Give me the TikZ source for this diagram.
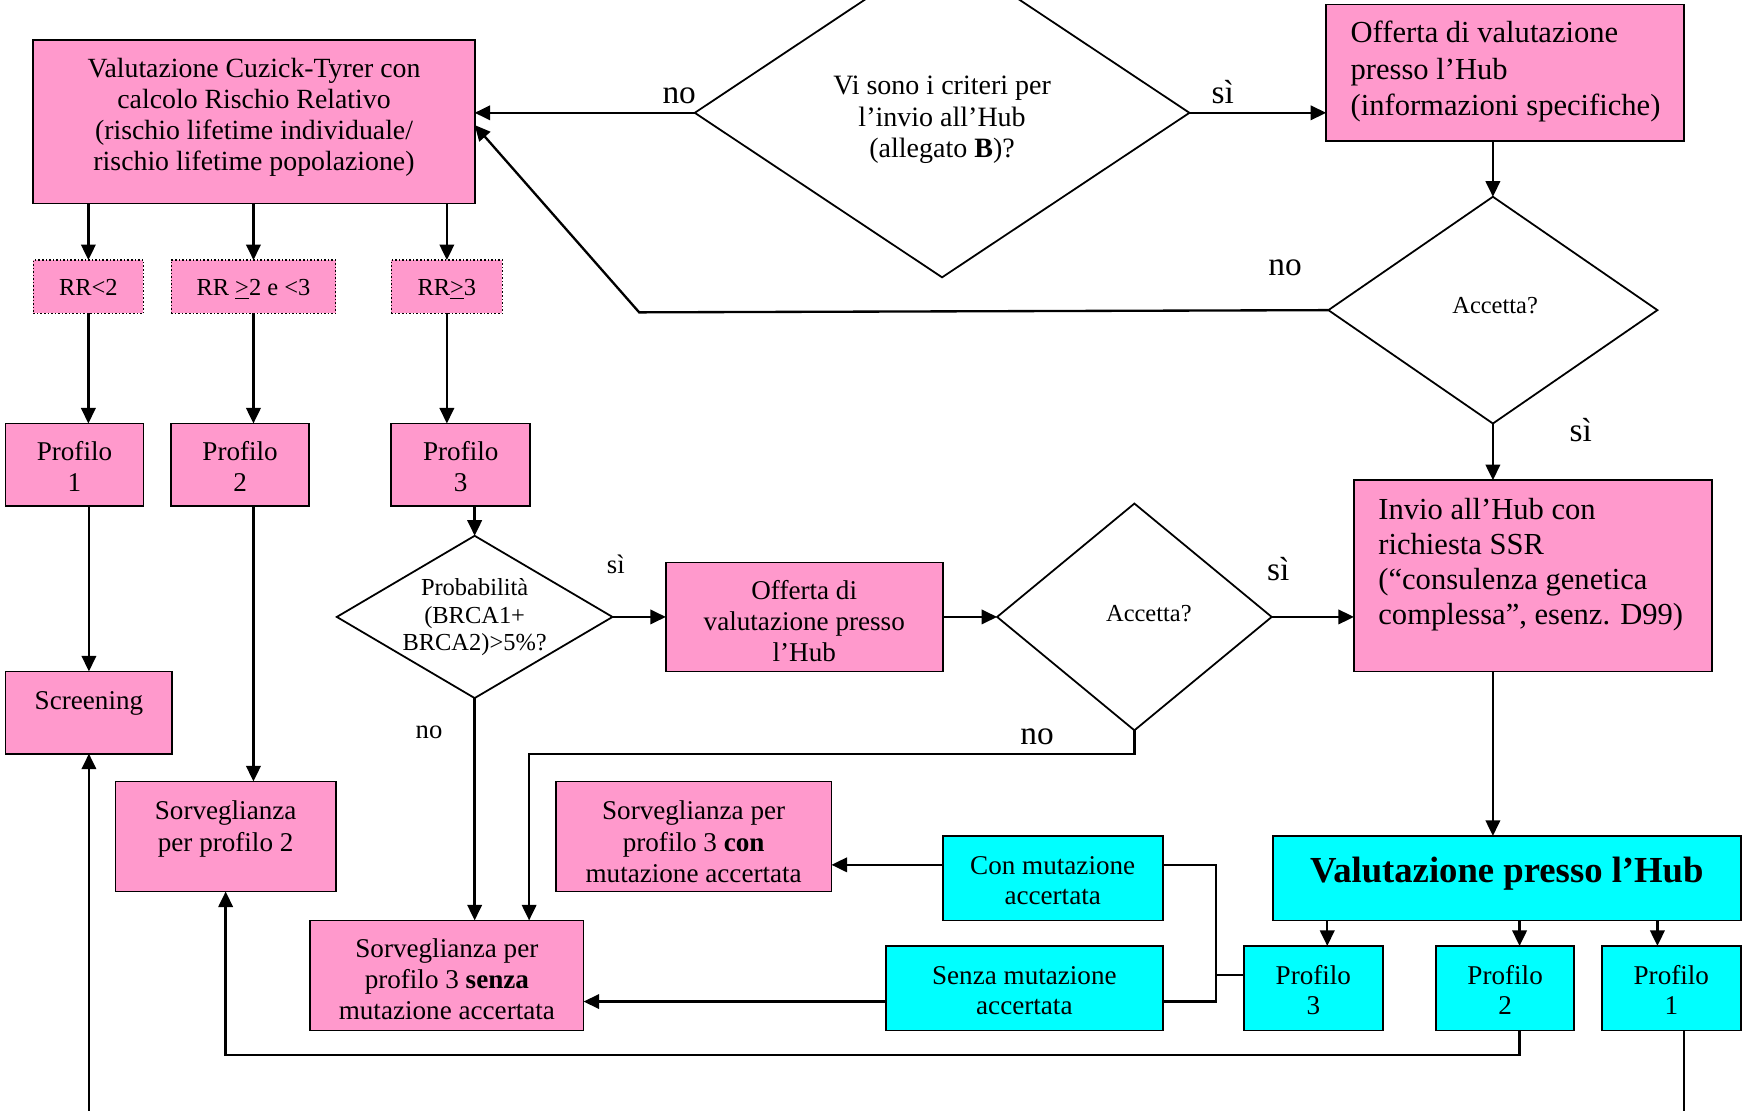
\documentclass[tikz,border=0pt]{standalone}
\usepackage{fontspec}
\setmainfont{Liberation Serif}
\usetikzlibrary{arrows.meta,shapes.geometric,calc}
\definecolor{pinkc}{RGB}{255,153,204}
\definecolor{cyanc}{RGB}{0,255,255}
\newcommand{\tblk}[4][c]{\makebox[#2][#1]{\smash{\raisebox{\dimexpr #3-0.25em-1.25pt\relax}{\begin{tabular}{@{}#1@{}}#4\end{tabular}}}}}
\newcommand{\setfs}[2]{\fontsize{#1}{#2}\selectfont}
\begin{document}
\begin{tikzpicture}[x=0.5pt,y=-0.5pt,
  bx/.style={draw, line width=0.8pt, inner sep=0pt, outer sep=0pt},
  pk/.style={bx, fill=pinkc},
  cy/.style={bx, fill=cyanc},
  rr/.style={pk, line width=0.6pt, dash pattern=on 0.7pt off 0.9pt},
  dia/.style={diamond, draw, line width=0.8pt, fill=white, inner sep=0pt, outer sep=0pt},
  ln/.style={line width=1.05pt},
  arr/.style={ln, -{Triangle[length=7pt,width=6.5pt]}},
  lbl/.style={inner sep=0pt, outer sep=0pt}]
\useasboundingbox (0,0) rectangle (1568,999);

% ---- boxes ----
\node[pk, minimum width=198.5pt, minimum height=73.5pt, font=\setfs{12.5}{14}] (A) at (228.5,109.5)
  {\tblk{0pt}{3.25pt}{Valutazione Cuzick-Tyrer con\\calcolo Rischio Relativo\\(rischio lifetime individuale/\\rischio lifetime popolazione)}};
\node[dia, minimum width=222.5pt, minimum height=148pt, font=\setfs{12.6}{14}] (D1) at (847.5,101.5)
  {\tblk{0pt}{-1.75pt}{Vi sono i criteri per\\l’invio all’Hub\\(allegato \textbf{B})?}};
\node[pk, minimum width=161pt, minimum height=61.5pt, font=\setfs{13.75}{16.25}] (B) at (1354,65.5)
  {\tblk[l]{139pt}{1.5pt}{Offerta di valutazione\\presso l’Hub\\(informazioni specifiche)}};
\node[dia, minimum width=148pt, minimum height=102pt, font=\setfs{11}{13}] (D2) at (1343,279)
  {\tblk{0pt}{2.5pt}{\hspace*{2pt}Accetta?}};
\node[pk, minimum width=161pt, minimum height=86pt, font=\setfs{13.75}{15.7}] (C) at (1379,518)
  {\tblk[l]{139pt}{6pt}{Invio all’Hub con\\richiesta SSR\\(“consulenza genetica\\complessa”, esenz. D99)}};

\node[rr, minimum width=49.5pt, minimum height=24pt, font=\setfs{11}{13}] (R1) at (79.5,258) {\tblk{0pt}{0pt}{RR<2}};
\node[rr, minimum width=74pt, minimum height=24pt, font=\setfs{11}{13}] (R2) at (228,258) {\tblk{0pt}{0pt}{RR \underline{>}2 e <3}};
\node[rr, minimum width=50pt, minimum height=24pt, font=\setfs{11}{13}] (R3) at (402,258) {\tblk{0pt}{0pt}{RR\underline{>}3}};

\node[pk, minimum width=62pt, minimum height=37pt, font=\setfs{12.2}{14}] (P1) at (67,418) {\tblk{0pt}{-1pt}{Profilo\\1}};
\node[pk, minimum width=62pt, minimum height=37pt, font=\setfs{12.2}{14}] (P2) at (216,418) {\tblk{0pt}{-1pt}{Profilo\\2}};
\node[pk, minimum width=62.5pt, minimum height=37pt, font=\setfs{12.2}{14}] (P3) at (414.5,418) {\tblk{0pt}{-1pt}{Profilo\\3}};

\node[dia, minimum width=124pt, minimum height=73pt, font=\setfs{11}{12.5}] (D3) at (427,555)
  {\tblk{0pt}{1pt}{Probabilità\\(BRCA1+\\BRCA2)>5\%?}};
\node[pk, minimum width=124.5pt, minimum height=49pt, font=\setfs{12.2}{14}] (E) at (723.5,555)
  {\tblk{0pt}{-2pt}{Offerta di\\valutazione presso\\l’Hub}};
\node[dia, minimum width=123.5pt, minimum height=102pt, font=\setfs{11}{13}] (D4) at (1020.5,555)
  {\tblk{0pt}{2pt}{\hspace*{13pt}Accetta?}};

\node[pk, minimum width=75pt, minimum height=37pt, font=\setfs{12.2}{14}] (Scr) at (80,641) {\tblk{0pt}{5.5pt}{Screening}};
\node[pk, minimum width=99pt, minimum height=49.5pt, font=\setfs{12.2}{14.5}] (SP2) at (203,752.5)
  {\tblk{0pt}{4.5pt}{Sorveglianza\\per profilo 2}};
\node[pk, minimum width=124pt, minimum height=49.5pt, font=\setfs{12.2}{14.25}] (SP3c) at (624,752.5)
  {\tblk{0pt}{-2.5pt}{Sorveglianza per\\profilo 3 \textbf{con}\\mutazione accertata}};
\node[pk, minimum width=123pt, minimum height=49.5pt, font=\setfs{12.2}{14}] (SP3s) at (402,877.5)
  {\tblk{0pt}{-1.75pt}{Sorveglianza per\\profilo 3 \textbf{senza}\\mutazione accertata}};

\node[cy, minimum width=99pt, minimum height=38pt, font=\setfs{12.2}{13.5}] (Con) at (947,790)
  {\tblk{0pt}{-1.25pt}{Con mutazione\\accertata}};
\node[cy, minimum width=124.5pt, minimum height=38pt, font=\setfs{12.2}{13.5}] (Senza) at (921.5,889)
  {\tblk{0pt}{-1.25pt}{Senza mutazione\\accertata}};
\node[cy, minimum width=210.5pt, minimum height=38pt, font=\setfs{16.5}{19}\bfseries] (Hub) at (1355.5,790)
  {\tblk{0pt}{3pt}{Valutazione presso l’Hub}};
\node[cy, minimum width=62.5pt, minimum height=38pt, font=\setfs{12.2}{13.5}] (HP3) at (1181.5,889) {\tblk{0pt}{-1.25pt}{Profilo\\3}};
\node[cy, minimum width=62pt, minimum height=38pt, font=\setfs{12.2}{13.5}] (HP2) at (1354,889) {\tblk{0pt}{-1.25pt}{Profilo\\2}};
\node[cy, minimum width=62.5pt, minimum height=38pt, font=\setfs{12.2}{13.5}] (HP1) at (1503.5,889) {\tblk{0pt}{-1.25pt}{Profilo\\1}};

% ---- connectors ----
\draw[arr] (D1.west) -- (D1.west -| A.east);
\draw[arr] (D1.east) -- (D1.east -| B.west);
\draw[arr] (D2.north |- B.south) -- (D2.north);
\coordinate (kA) at (575,281);
\coordinate (aE) at ([yshift=-1.5pt]A.east);
\draw[arr] (D2.west) -- (kA) -- (aE);
\draw[arr] (D2.south) -- (D2.south |- C.north);
\foreach \r in {R1,R2,R3} {\draw[arr] (\r.north |- A.south) -- (\r.north);}
\draw[arr] (R1.south) -- (R1.south |- P1.north);
\draw[arr] (R2.south) -- (R2.south |- P2.north);
\draw[arr] (R3.south) -- (R3.south |- P3.north);
\draw[arr] (Scr.north |- P1.south) -- (Scr.north);
\draw[arr] (R2.south |- P2.south) -- (R2.south |- SP2.north);
\draw[arr] (D3.north |- P3.south) -- (D3.north);
\draw[arr] (D3.east) -- (E.west);
\draw[arr] (E.east) -- (D4.west);
\draw[arr] (D4.east) -- (D4.east -| C.west);
\draw[arr] (D3.south) -- (D3.south |- SP3s.north);
\coordinate (kB) at (476,678);
\draw[arr] (D4.south) |- (kB) -- (kB |- SP3s.north);
\draw[arr] (D2.south |- C.south) -- (D2.south |- Hub.north);
\coordinate (h3) at ([xshift=6.25pt]HP3.north);
\coordinate (h2) at ([xshift=6.5pt]HP2.north);
\coordinate (h1) at ([xshift=-6.25pt]HP1.north);
\draw[arr] (h3 |- Hub.south) -- (h3);
\draw[arr] (h2 |- Hub.south) -- (h2);
\draw[arr] (h1 |- Hub.south) -- (h1);
\coordinate (jx) at (1094,877);
\coordinate (cE) at ([yshift=6pt]Con.east);
\coordinate (cW) at ([yshift=6pt]Con.west);
\coordinate (sE) at ([yshift=-6pt]Senza.east);
\coordinate (sW) at ([yshift=-6pt]Senza.west);
\coordinate (h3w) at ([yshift=6pt]HP3.west);
\draw[ln] (cE) -| (jx) |- (sE);
\draw[ln] (h3w) -- (jx);
\draw[arr] (cW) -- (cW -| SP3c.east);
\draw[arr] (sW) -- (sW -| SP3s.east);
\coordinate (h2s) at ([xshift=6.5pt]HP2.south);
\coordinate (low) at (0,949);
\draw[arr] (h2s) |- (low -| SP2.south) -- (SP2.south);
\coordinate (h1s) at ([xshift=5.75pt]HP1.south);
\coordinate (bot) at (0,1010);
\draw[ln] (h1s) -- (h1s |- bot);
\draw[arr] (Scr.south |- bot) -- (Scr.south);

% ---- labels ----
\node[lbl, font=\setfs{15}{17.5}] (n1) at (611,83) {\tblk{0pt}{0pt}{no}};
\node[lbl, font=\setfs{15}{17.5}] (s1) at (1100,83) {\tblk{0pt}{0pt}{sì}};
\node[lbl, font=\setfs{15}{17.5}] (n2) at (1156,238) {\tblk{0pt}{0pt}{no}};
\node[lbl, font=\setfs{15}{17.5}] (s2) at (1422,387) {\tblk{0pt}{0pt}{sì}};
\node[lbl, font=\setfs{12}{14}] (s3) at (554,508) {\tblk{0pt}{0pt}{sì}};
\node[lbl, font=\setfs{12}{14}] (n3) at (386,656) {\tblk{0pt}{0pt}{no}};
\node[lbl, font=\setfs{15}{17.5}] (s4) at (1150,512) {\tblk{0pt}{0pt}{sì}};
\node[lbl, font=\setfs{15}{17.5}] (n4) at (933,660) {\tblk{0pt}{0pt}{no}};
\end{tikzpicture}
\end{document}
